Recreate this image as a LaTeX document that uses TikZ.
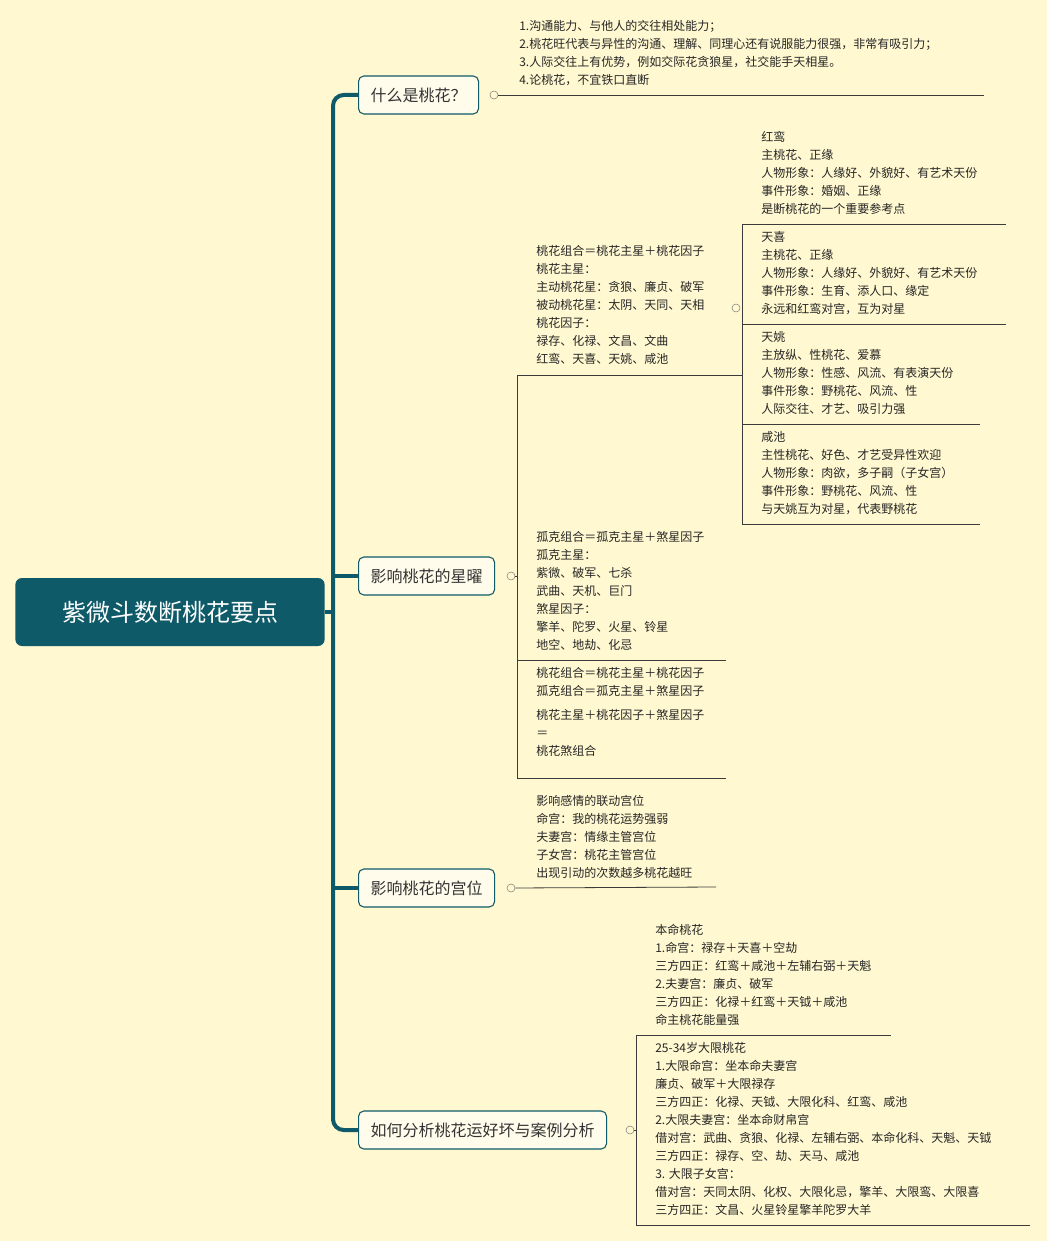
\documentclass[tikz,border=0pt]{standalone}
\usepackage{fontspec}
\setmainfont{Noto Sans CJK SC}
\definecolor{bg}{RGB}{255,248,208}
\definecolor{teal}{RGB}{14,90,104}
\definecolor{ln}{RGB}{60,60,60}
\begin{document}
\begin{tikzpicture}[x=0.75pt,y=-0.75pt,
  trunk/.style={teal,line width=3pt},
  topic/.style={draw=teal,fill=white!60!bg,rounded corners=4pt,line width=0.8pt,minimum height=28.5pt,inner xsep=9pt,font=\fontsize{12}{14}\selectfont,text=black!80},
  blk/.style={anchor=north west,inner sep=0pt,align=left,font=\fontsize{9}{13.5}\selectfont,text=black!85},
  ul/.style={ln,line width=0.6pt},
  knob/.style={circle,draw=black!50,fill=bg,inner sep=0pt,minimum size=6pt,line width=0.4pt}]
\fill[bg] (0,0) rectangle (1047,1241);
\useasboundingbox (0,0) rectangle (1047,1241);
% root and topics
\node[fill=teal,rounded corners=5pt,minimum width=232pt,minimum height=51pt,text=white,font=\fontsize{18}{20}\selectfont] (root) at (170,612) {紫微斗数断桃花要点};
\node[topic,anchor=west] (b1) at (358,95) {什么是桃花？};
\node[topic,anchor=west] (b2) at (358,576) {影响桃花的星曜};
\node[topic,anchor=west] (b3) at (358,888) {影响桃花的宫位};
\node[topic,anchor=west] (b4) at (358,1130) {如何分析桃花运好坏与案例分析};
\draw[trunk,rounded corners=8pt] (b1.west) -- (333,95) -- (333,1130) -- (b4.west);
\draw[trunk] (root.east) -- (333,612);
\draw[trunk] (b2.west) -- (333,576);
\draw[trunk] (b3.west) -- (333,888);
% topic 1
\node[knob] (k1) at (494,95) {};
\coordinate (u1e) at (984,95);
\draw[ul] (k1) -- (u1e);
\node[blk] (t1) at (519,20) {1.沟通能力、与他人的交往相处能力；\\2.桃花旺代表与异性的沟通、理解、同理心还有说服能力很强，非常有吸引力；\\3.人际交往上有优势，例如交际花贪狼星，社交能手天相星。\\4.论桃花，不宜铁口直断};
% topic 2
\node[knob] (k2) at (511,576) {};
\coordinate (v2t) at (517,375);
\coordinate (v2b) at (517,778);
\draw[ul] (k2) -- (517,576);
\draw[ul] (v2t) -- (v2b);
\coordinate (a2e) at (742,375);
\draw[ul] (v2t) -- (a2e);
\node[blk] (ta) at (536,245) {桃花组合＝桃花主星＋桃花因子\\桃花主星：\\主动桃花星：贪狼、廉贞、破军\\被动桃花星：太阴、天同、天相\\桃花因子：\\禄存、化禄、文昌、文曲\\红鸾、天喜、天姚、咸池};
\node[knob] (ka) at (736,308) {};
\coordinate (v3t) at (742,224);
\coordinate (v3b) at (742,524);
\draw[ul] (v3t) -- (v3b);
\draw[ul] (v3t) -- (1006,224);
\draw[ul] (742,324) -- (1006,324);
\draw[ul] (742,424) -- (980,424);
\draw[ul] (742,524) -- (980,524);
\node[blk] (hl) at (761,131) {红鸾\\主桃花、正缘\\人物形象：人缘好、外貌好、有艺术天份\\事件形象：婚姻、正缘\\是断桃花的一个重要参考点};
\node[blk] (tx) at (761,231) {天喜\\主桃花、正缘\\人物形象：人缘好、外貌好、有艺术天份\\事件形象：生育、添人口、缘定\\永远和红鸾对宫，互为对星};
\node[blk] (ty) at (761,331) {天姚\\主放纵、性桃花、爱慕\\人物形象：性感、风流、有表演天份\\事件形象：野桃花、风流、性\\人际交往、才艺、吸引力强};
\node[blk] (xc) at (761,431) {咸池\\主性桃花、好色、才艺受异性欢迎\\人物形象：肉欲，多子嗣（子女宫）\\事件形象：野桃花、风流、性\\与天姚互为对星，代表野桃花};
\draw[ul] (517,660) -- (726,660);
\draw[ul] (v2b) -- (726,778);
\node[blk] (tb) at (536,531) {孤克组合＝孤克主星＋煞星因子\\孤克主星：\\紫微、破军、七杀\\武曲、天机、巨门\\煞星因子：\\擎羊、陀罗、火星、铃星\\地空、地劫、化忌};
\node[blk] (tc) at (536,667) {桃花组合＝桃花主星＋桃花因子\\孤克组合＝孤克主星＋煞星因子\\[4.5pt]桃花主星＋桃花因子＋煞星因子\\ ＝\\桃花煞组合};
% topic 3
\node[knob] (k3) at (511,888) {};
\draw[ul] (k3) -- (716,887);
\node[blk] (t3) at (536,795) {影响感情的联动宫位\\命宫：我的桃花运势强弱\\夫妻宫：情缘主管宫位\\子女宫：桃花主管宫位\\出现引动的次数越多桃花越旺};
% topic 4
\node[knob] (k4) at (630,1130) {};
\draw[ul] (k4) -- (636,1130);
\draw[ul] (636,1035) -- (636,1225);
\draw[ul] (636,1035) -- (891,1035);
\draw[ul] (636,1225) -- (1030,1225);
\node[blk] (t4a) at (655,924) {本命桃花\\1.命宫：禄存＋天喜＋空劫\\三方四正：红鸾＋咸池＋左辅右弼＋天魁\\2.夫妻宫：廉贞、破军\\三方四正：化禄＋红鸾＋天钺＋咸池\\命主桃花能量强};
\node[blk] (t4b) at (655,1042) {25-34岁大限桃花\\1.大限命宫：坐本命夫妻宫\\廉贞、破军＋大限禄存\\三方四正：化禄、天钺、大限化科、红鸾、咸池\\2.大限夫妻宫：坐本命财帛宫\\借对宫：武曲、贪狼、化禄、左辅右弼、本命化科、天魁、天钺\\三方四正：禄存、空、劫、天马、咸池\\3. 大限子女宫：\\借对宫：天同太阴、化权、大限化忌，擎羊、大限鸾、大限喜\\三方四正：文昌、火星铃星擎羊陀罗大羊};
\end{tikzpicture}
\end{document}
